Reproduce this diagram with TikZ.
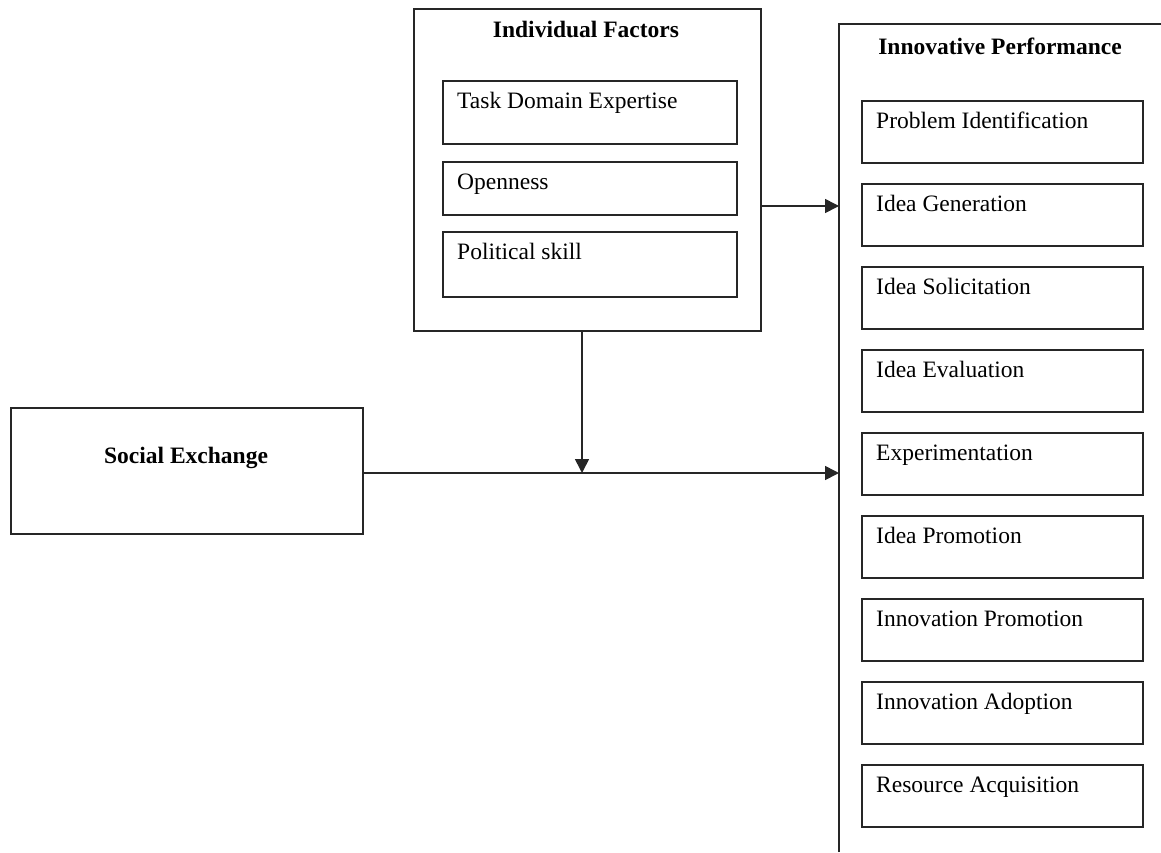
\documentclass[tikz,border=0pt]{standalone}
\usepackage{fontspec}
\setmainfont{Liberation Serif}
\usetikzlibrary{arrows.meta}
\begin{document}
\begin{tikzpicture}[x=1pt,y=-1pt,
  ln/.style={line width=1.6pt, draw=black!85},
  box/.style={ln, draw, rectangle, inner sep=0pt, anchor=north west},
  item/.style={box, minimum width=281pt, minimum height=62pt},
  fitem/.style={box, minimum width=294pt},
  txt/.style={anchor=base west, inner sep=0pt, font=\fontsize{23.5}{28}\selectfont},
  ttl/.style={anchor=base, inner sep=0pt, font=\fontsize{23.5}{28}\selectfont\bfseries},
  arr/.style={ln, -{Triangle[length=14pt,width=14pt]}}]
\useasboundingbox (0,0) rectangle (1161,852);
% Individual factors
\node[box, minimum width=347pt, minimum height=322pt] (ind) at (413,8) {};
\node[ttl] (indt) at (586,37) {Individual Factors};
\node[fitem, minimum height=63pt] (f1) at (442,80) {};
\node[txt] (f1t) at (457,108) {Task Domain Expertise};
\node[fitem, minimum height=53pt] (f2) at (442,161) {};
\node[txt] (f2t) at (457,189) {Openness};
\node[fitem, minimum height=65pt] (f3) at (442,231) {};
\node[txt] (f3t) at (457,259) {Political skill};
% Social exchange
\node[box, minimum width=352pt, minimum height=126pt] (se) at (10,407) {};
\node[ttl] (set) at (186,463) {Social Exchange};
% Innovative performance
\coordinate (ipTL) at (839,24);
\coordinate (ipBL) at (839,852);
\coordinate (ipTR) at (1161,24);
\draw[ln] (ipBL) -- (ipTL) -- (ipTR);
\node[ttl] (ipt) at (1000,54) {Innovative Performance};
\foreach \i/\t in {0/Problem Identification,1/Idea Generation,2/Idea Solicitation,3/Idea Evaluation,4/Experimentation,5/Idea Promotion,6/Innovation Promotion,7/Innovation Adoption,8/Resource Acquisition}{
  \node[item] (p\i) at (861,100+83*\i) {};
  \node[txt] (p\i t) at (876,128+83*\i) {\t};
}
% connectors
\coordinate (m) at (582,473);
\draw[arr] (ind.east |- 0,206) -- (ipTL |- 0,206);
\draw[ln] (se.east |- m) -- (m);
\draw[arr] (m) -- (ipTL |- m);
\draw[arr] (ind.south -| m) -- (m);
\end{tikzpicture}
\end{document}
